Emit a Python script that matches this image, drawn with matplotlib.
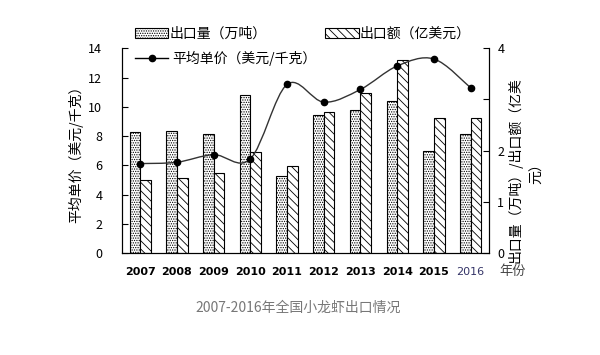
import numpy as np
import matplotlib
matplotlib.use("Agg")
import matplotlib.pyplot as plt
from matplotlib.path import Path
from matplotlib.patches import PathPatch, Patch
from matplotlib.lines import Line2D

plt.rcParams['font.family'] = ['Noto Sans CJK SC', 'DejaVu Sans']
plt.rcParams['hatch.linewidth'] = 0.6

# ---- 数据 ----
years = ['2007', '2008', '2009', '2010', '2011', '2012', '2013', '2014', '2015', '2016']
volume = [2.36, 2.39, 2.32, 3.09, 1.50, 2.69, 2.80, 2.97, 1.99, 2.32]   # 出口量 (万吨)
value = [1.43, 1.46, 1.57, 1.98, 1.70, 2.76, 3.13, 3.77, 2.63, 2.63]    # 出口额 (亿美元)
price = [6.12, 6.21, 6.73, 6.44, 11.53, 10.32, 11.19, 12.79, 13.27, 11.30]  # 平均单价 (美元/千克)
left_ticks = [0, 2, 4, 6, 8, 10, 12, 14]
right_ticks = [0, 1, 2, 3, 4]
right_labels = ['0', '1', '2', '', '4']

fig = plt.figure(figsize=(6, 3.55), dpi=100)
ax = fig.add_axes([0.203, 0.287, 0.612, 0.577])
ax2 = ax.twinx()

x = np.arange(len(years))
w = 0.29

# 柱子画在右轴
ax2.bar(x - w / 2, volume, w, color='white', edgecolor='black', hatch='.......', linewidth=0.8)
ax2.bar(x + w / 2, value, w, color='white', edgecolor='black', hatch='\\\\\\\\', linewidth=0.8)

# 平滑折线 (Excel 风格的 Bezier 平滑)
pts = np.column_stack([x, price]).astype(float)
verts = [pts[0]]
codes = [Path.MOVETO]
for i in range(len(pts) - 1):
    p0 = pts[i - 1] if i > 0 else pts[i]
    p1 = pts[i]
    p2 = pts[i + 1]
    p3 = pts[i + 2] if i + 2 < len(pts) else pts[i + 1]
    c1 = p1 + (p2 - p0) / 6.0
    c2 = p2 - (p3 - p1) / 6.0
    verts += [c1, c2, p2]
    codes += [Path.CURVE4] * 3
ax.add_patch(PathPatch(Path(verts, codes), facecolor='none', edgecolor='#333333', lw=1.0))
ax.plot(x, price, linestyle='none', marker='o', ms=4.5, color='black')

ax.set_zorder(ax2.get_zorder() + 1)
ax.patch.set_visible(False)

ax.set_xlim(-0.5, len(years) - 0.5)
ax.set_ylim(0, 14)
ax2.set_ylim(0, 4)
ax.set_yticks(left_ticks)
ax2.set_yticks(right_ticks)
ax2.set_yticklabels(right_labels)
ax.set_xticks(x)
ax.set_xticklabels(years)

for a in (ax, ax2):
    a.spines['top'].set_visible(False)
    a.tick_params(axis='y', direction='in', length=4, width=0.8, labelsize=9, pad=14)
ax.tick_params(axis='x', length=0, labelsize=8, pad=10)
ax2.tick_params(axis='y', pad=6)
for lab in ax.get_xticklabels():
    lab.set_fontweight('bold')
    lab.set_family(['DejaVu Sans'])
ax.get_xticklabels()[-1].set_fontweight('normal')
ax.get_xticklabels()[-1].set_color('#333366')

ax.set_ylabel('平均单价（美元/千克）', fontsize=10, labelpad=4)
# 右轴标题 (两列)
fig.text(0.858, 0.52, '出口量（万吨）/出口额（亿美', rotation=90, fontsize=10,
         ha='center', va='center')
fig.text(0.895, 0.52, '元）', rotation=90, fontsize=10, ha='center', va='center')
fig.text(0.855, 0.235, '年份', fontsize=9.5, color='#444444', ha='center', va='center')

# 图例
bar_handles = [Patch(facecolor='white', edgecolor='black', hatch='.......', lw=0.8),
               Patch(facecolor='white', edgecolor='black', hatch='\\\\\\\\', lw=0.8)]
fig.legend(bar_handles, ['出口量（万吨）', '出口额（亿美元）'], loc='center left',
           bbox_to_anchor=(0.225, 0.905), ncol=2, frameon=False, fontsize=10,
           handlelength=2.4, handleheight=0.7, handletextpad=0.1, columnspacing=4.2,
           borderaxespad=0, borderpad=0)
line_handle = [Line2D([], [], color='black', lw=1.0, marker='o', ms=4.5)]
fig.legend(line_handle, ['平均单价（美元/千克）'], loc='center left',
           bbox_to_anchor=(0.225, 0.835), frameon=False, fontsize=10,
           handlelength=2.4, handletextpad=0.3, borderaxespad=0, borderpad=0)

fig.text(0.497, 0.132, '2007-2016年全国小龙虾出口情况', fontsize=10, color='#777777',
         ha='center', va='center')

fig.savefig('out.png', dpi=100)
